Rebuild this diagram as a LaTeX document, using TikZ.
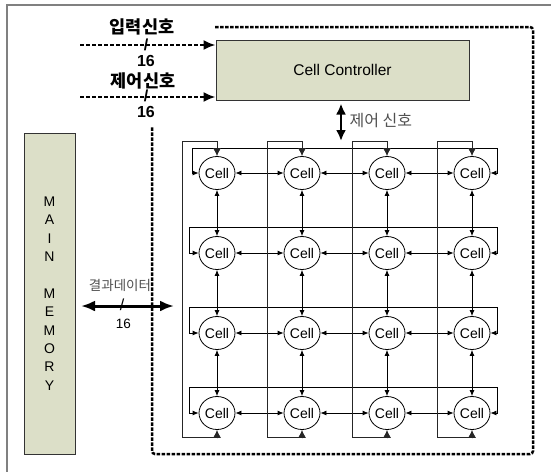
\documentclass[tikz,border=0pt]{standalone}
\usepackage{fontspec}
\setmainfont{Liberation Sans}
\newfontfamily\kr{Noto Sans CJK KR}
\usetikzlibrary{arrows.meta,shapes.geometric,calc}
\definecolor{boxfill}{HTML}{DCDFC8}
\definecolor{txtgray}{HTML}{505050}
\begin{document}
\begin{tikzpicture}[x=1pt,y=-1pt,
  cellnode/.style={draw, ellipse, minimum width=36pt, minimum height=33pt, inner sep=0pt,
    line width=0.8pt, font=\fontsize{14}{14}\selectfont},
  link/.style={line width=0.8pt, {Latex[length=6pt,width=5pt]}-{Latex[length=6pt,width=5pt]}},
  colwrap/.style={line width=0.8pt, draw=black!85, {Latex[length=8pt,width=8pt]}-{Latex[length=8pt,width=8pt]}},
  bigarrow/.style={line width=3pt, {Latex[length=14pt,width=11pt]}-{Latex[length=14pt,width=11pt]}},
  inarrow/.style={line width=2pt, dash pattern=on 4pt off 2pt, -{Latex[length=12pt,width=10pt]}},
  dotline/.style={line width=2.5pt, dash pattern=on 3.5pt off 1.5pt},
  boldkr/.style={font=\kr\bfseries\fontsize{17.5}{17.5}\selectfont},
  boldnum/.style={font=\bfseries\fontsize{16}{16}\selectfont},
  graykr/.style={text=txtgray, font=\kr\fontsize{16}{16}\selectfont},
  gbox/.style={draw=black!80, line width=1pt, fill=boxfill, inner sep=0pt}
]
\useasboundingbox (0,0) rectangle (551,472);
% page frame
\draw[gray, line width=1.5pt] (551,5) -- (7,5) -- (7,472);

% dotted boundary
\draw[dotline, rounded corners=3pt] (215,27) -- (533,27) -- (533,454) -- (152,454) -- (152,126);

% main memory
\node[gbox, minimum width=51pt, minimum height=321pt, align=center,
      font=\fontsize{14}{18.4}\selectfont] (mem) at (49.5,293.5)
      {M\\A\\I\\N\\[18.4pt]M\\E\\M\\O\\R\\Y};

% cell controller
\node[gbox, minimum width=253pt, minimum height=60pt, font=\fontsize{15.5}{15.5}\selectfont]
      (ctrl) at (342.5,70) {Cell Controller};

% input arrows
\coordinate (in1) at (80,45);
\coordinate (in2) at (80,97);
\draw[inarrow] (in1) -- (in1 -| ctrl.west);
\draw[inarrow] (in2) -- (in2 -| ctrl.west);
\node[boldkr] (l1) at (142,27) {입력신호};
\node[boldnum, inner sep=0pt] (s1) at (146,45) {/};
\node[boldnum, inner sep=0pt, anchor=north] (n1) at (146,55.5) {16};
\node[boldkr] (l2) at (143,81) {제어신호};
\node[boldnum, inner sep=0pt] (s2) at (146,96) {/};
\node[boldnum, inner sep=0pt, anchor=north] (n2) at (146,106.5) {16};

% controller to grid
\coordinate (cg) at (341,141);
\draw[bigarrow, line width=2.5pt, {Latex[length=11pt,width=10pt]}-{Latex[length=11pt,width=10pt]}]
  (ctrl.south -| cg) ++(0,3) -- (cg);
\node[graykr, anchor=west] (cl) at (346,121) {제어 신호};

% memory arrow
\coordinate (m1) at (81,306);
\coordinate (m2) at (174,306);
\draw[bigarrow] (m1) -- (m2);
\node[text=txtgray, font=\kr\fontsize{13.5}{13.5}\selectfont] (ml) at (120,285) {결과데이터};
\node[font=\fontsize{16}{16}\selectfont, inner sep=0pt] (ms) at (122,305) {/};
\node[font=\fontsize{13.5}{13.5}\selectfont, inner sep=0pt] (mn) at (123.5,324) {16};

% cells
\foreach \i/\y in {1/173,2/253,3/333,4/413}
  \foreach \j/\x in {1/217,2/302,3/387,4/472}
    \node[cellnode] (c\i\j) at (\x,\y) {Cell};

% horizontal links
\foreach \i in {1,...,4}
  \foreach \j/\k in {1/2,2/3,3/4}
    \draw[link] (c\i\j) -- (c\i\k);
% vertical links
\foreach \j in {1,...,4}
  \foreach \i/\k in {1/2,2/3,3/4}
    \draw[link] (c\i\j) -- (c\k\j);

% row wraps
\draw[link] (c11.west) -- ++(-6,0) -- ++(0,-25) -| ($(c14.east)+(7,0)$) -- (c14.east);
\foreach \i in {2,3,4}
  \draw[link] (c\i1.west) -- ++(-9,0) -- ++(0,-26) -| ($(c\i4.east)+(7,0)$) -- (c\i4.east);

% column wraps
\foreach \j in {1,...,4}
  \draw[colwrap] (c1\j.north) -- ++(0,-14.5) -- ++(-35,0) -- ++(0,296) -- ++(35,0) -- (c4\j.south);
\end{tikzpicture}
\end{document}
